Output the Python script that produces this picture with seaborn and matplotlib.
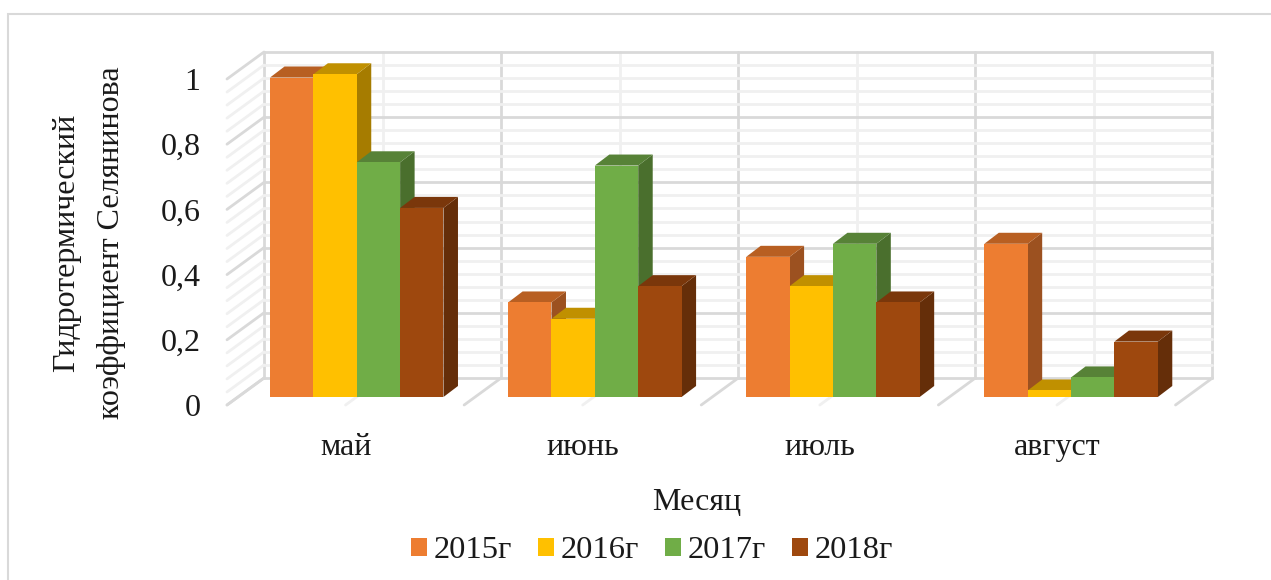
import matplotlib
matplotlib.use("Agg")
import matplotlib.pyplot as plt
from matplotlib.patches import Polygon, Rectangle
from matplotlib.ticker import MultipleLocator
import numpy as np
import pandas as pd
import seaborn as sns

months = ["май", "июнь", "июль", "август"]
years = ["2015г", "2016г", "2017г", "2018г"]
v2015 = [0.98, 0.29, 0.43, 0.47]
v2016 = [0.99, 0.24, 0.34, 0.02]
v2017 = [0.72, 0.71, 0.47, 0.06]
v2018 = [0.58, 0.34, 0.29, 0.17]
y_ticks = [0, 0.2, 0.4, 0.6, 0.8, 1]
y_labels = ["0", "0,2", "0,4", "0,6", "0,8", "1"]
x_title = "Месяц"
y_title = "Гидротермический\nкоэффициент Селянинова"

front_colors = ["#ED7D31", "#FFC000", "#70AD47", "#9E480E"]
top_colors = ["#B85F22", "#C09000", "#578237", "#7A370B"]
side_colors = ["#9C5120", "#A67C00", "#4A6F2D", "#652E09"]

W, H = 1271, 580
sns.set_theme(style="white")
plt.rcParams["font.family"] = ["Liberation Serif", "DejaVu Serif"]
FS = 23
TXT = "#1a1a1a"

fig = plt.figure(figsize=(W / 100, H / 100), dpi=100)


def axes_px(x0, x1, ytop, ybot, **kw):
    return fig.add_axes([x0 / W, 1 - ybot / H, (x1 - x0) / W, (ybot - ytop) / H], **kw)


fig.add_artist(Rectangle((8 / W, -0.02), 1.2, 1.02 - 14 / H, transform=fig.transFigure,
                         fill=False, ec="#D9D9D9", lw=1.5))

# back wall
wall = axes_px(264, 1212.5, 52, 378, facecolor="none", zorder=1)
wall.set_xlim(-0.5, 3.5)
wall.set_ylim(0, 1)
wall.xaxis.set_major_locator(MultipleLocator(1, offset=0.5))
wall.xaxis.set_minor_locator(MultipleLocator(1))
wall.yaxis.set_major_locator(MultipleLocator(0.2))
wall.yaxis.set_minor_locator(MultipleLocator(0.04))
wall.grid(which="major", color="#D9D9D9", lw=2, clip_on=False)
wall.grid(which="minor", color="#F0F0F0", lw=2, clip_on=False)
wall.tick_params(which="both", length=0, labelleft=False, labelbottom=False)
sns.despine(ax=wall, left=True, bottom=True, right=True, top=True)

# depth of the left wall and the floor
dx = -37 / (1212.5 - 264) * 4
dy = -27 / 326
for v in np.arange(0, 1.001, 0.04):
    major = abs(v / 0.2 - round(v / 0.2)) < 1e-6
    wall.plot([-0.5, -0.5 + dx], [v, v + dy], clip_on=False, solid_capstyle="round",
              color="#D9D9D9" if major else "#F0F0F0", lw=2)
for c in np.arange(-0.5, 3.51, 0.5):
    major = abs(c - round(c)) > 0.1
    wall.plot([c, c + dx], [0, dy], clip_on=False, solid_capstyle="round",
              color="#D9D9D9" if major else "#F0F0F0", lw=2)

# front plane: axis labels
front = axes_px(227, 1175.5, 79, 405, facecolor="none", zorder=2)
front.set_xlim(-0.5, 3.5)
front.set_ylim(0, 1)
front.set_xticks(range(len(months)), months)
front.set_yticks(y_ticks, y_labels)
front.tick_params(length=0, labelsize=FS, labelcolor=TXT)
front.tick_params(axis="y", pad=19)
front.tick_params(axis="x", pad=20)
sns.despine(ax=front, left=True, bottom=True, right=True, top=True)
fig.text(697 / W, 1 - 502 / H, x_title, ha="center", va="center", fontsize=FS, color=TXT)
fig.text(89 / W, 1 - 243 / H, y_title, rotation=90, ha="center", va="center",
         fontsize=FS, color=TXT, linespacing=1.72)

# bars
x_step = 238.1
x_c0 = 356.75
bars = axes_px(x_c0 - 0.5 * x_step, x_c0 + 3.5 * x_step, 71, 397, facecolor="none", zorder=3)
df = pd.DataFrame({
    "month": months * 4,
    "year": np.repeat(years, 4),
    "value": v2015 + v2016 + v2017 + v2018,
})
sns.barplot(data=df, x="month", y="value", hue="year", order=months, hue_order=years,
            palette=front_colors, width=0.7285, gap=0, dodge=True, ax=bars, legend=True,
            linewidth=0, saturation=1, errorbar=None)
bars.set_xlim(-0.5, 3.5)
bars.set_ylim(0, 1)
bars.set_axis_off()

ddx = 14.5 / x_step
ddy = 11 / 326
rects = []
for i, cont in enumerate(bars.containers):
    for j, p in enumerate(cont.patches):
        rects.append((p.get_x(), i, p))
for order, (_, i, p) in enumerate(sorted(rects, key=lambda t: t[0])):
    x0, x1 = p.get_x(), p.get_x() + p.get_width()
    h = p.get_height()
    z = 3 + order * 2
    p.set_zorder(z + 1)
    p.set_clip_on(False)
    bars.add_patch(Polygon([(x1, 0), (x1 + ddx, ddy), (x1 + ddx, h + ddy), (x1, h)],
                           fc=side_colors[i], ec="none", zorder=z, clip_on=False))
    bars.add_patch(Polygon([(x0, h), (x0 + ddx, h + ddy), (x1 + ddx, h + ddy), (x1, h)],
                           fc=top_colors[i], ec="none", zorder=z, clip_on=False))

handles, labels = bars.get_legend_handles_labels()
bars.get_legend().remove()
fig.legend(handles, labels, loc="center", bbox_to_anchor=(652 / W, 1 - 551 / H),
           ncol=4, frameon=False, fontsize=23.4, labelcolor=TXT, handlelength=0.49,
           handleheight=0.49, handletextpad=0.21, columnspacing=0.8, borderpad=0)

fig.savefig("out.png", dpi=100)
